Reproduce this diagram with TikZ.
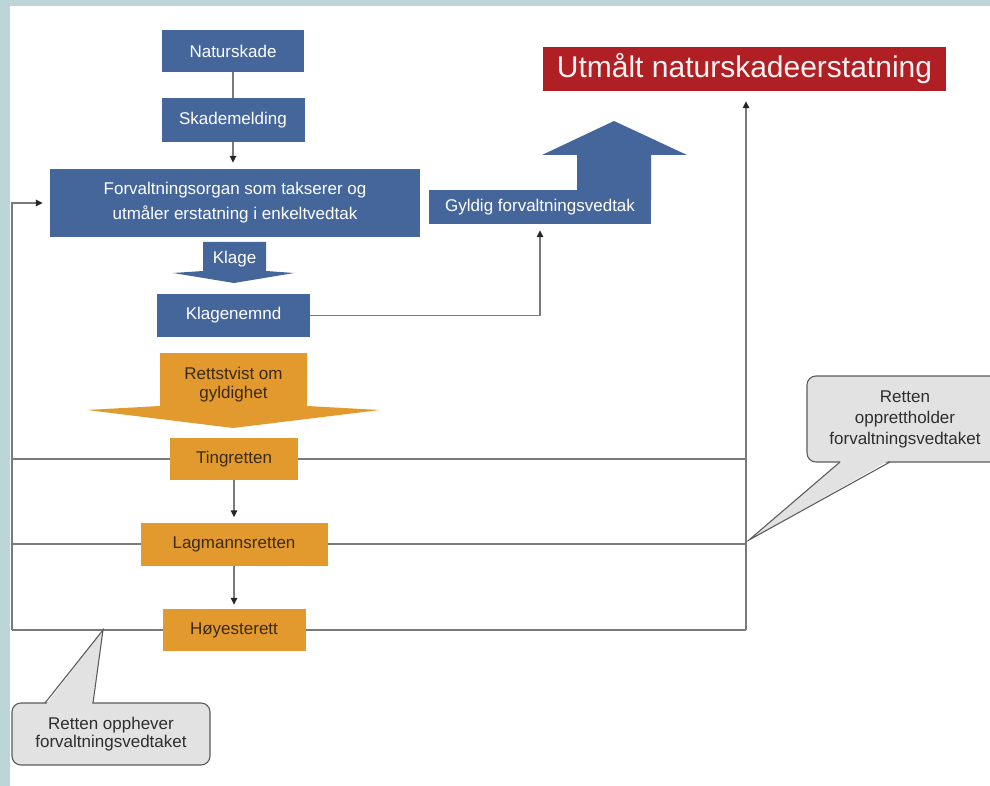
\documentclass[tikz,border=0pt]{standalone}
\usepackage{fontspec}
\setmainfont{Liberation Sans}
\usetikzlibrary{arrows.meta}
\definecolor{bgband}{HTML}{BCD5D9}
\definecolor{boxblue}{HTML}{45669A}
\definecolor{boxorange}{HTML}{E29A2E}
\definecolor{boxred}{HTML}{B01F24}
\definecolor{linegray}{HTML}{7A7A7A}
\definecolor{callfill}{HTML}{E2E2E2}
\definecolor{callline}{HTML}{5C5C5C}
\definecolor{orangetext}{HTML}{3B2A12}
\definecolor{calltext}{HTML}{2E2E2E}
\begin{document}
\begin{tikzpicture}[x=1pt,y=-1pt,
  txt/.style={font=\fontsize{17}{19}\selectfont, align=center, inner sep=0pt},
  bluebox/.style={txt, fill=boxblue, text=white},
  orangebox/.style={txt, fill=boxorange, text=orangetext},
  redbox/.style={fill=boxred, text=white!95!red, inner sep=0pt, font=\fontsize{30}{32}\selectfont},
  callbox/.style={txt, fill=callfill, draw=callline, line width=1.1pt, rounded corners=9pt, text=calltext},
  conn/.style={draw=linegray, line width=1.5pt},
  arr/.style={conn, -{Triangle[length=7pt,width=6.5pt,color=black!85]}},
  bigarrow/.style={fill=boxblue}
]
\useasboundingbox (0,0) rectangle (990,786);
\fill[bgband] (0,0) rectangle (990,786);
\fill[white] (10,6) rectangle (990,786);

% coordinates of the outer lines
\coordinate (lt) at (12,459);
\coordinate (ll) at (12,544);
\coordinate (lh) at (12,630);
\coordinate (rt) at (746,459);
\coordinate (rl) at (746,544);
\coordinate (rh) at (746,630);
\draw[conn] (lt) -- (rt);
\draw[conn] (ll) -- (rl);
\draw[conn] (lh) -- (rh);

% blue column
\node[bluebox, minimum width=142pt, minimum height=42pt] (nat) at (233,51) {Naturskade};
\node[bluebox, minimum width=143pt, minimum height=44pt] (skm) at (233,120) {Skademelding};
\node[bluebox, minimum width=370pt, minimum height=68pt, font=\fontsize{17}{25}\selectfont] (forv) at (235,203)
  {Forvaltningsorgan som takserer og\\utmåler erstatning i enkeltvedtak};
\fill[boxblue] (203,242) -- (266,242) -- (266,271) -- (294,273) -- (234,283) -- (173,273) -- (203,271) -- cycle;
\node[txt, text=white] (klage) at (234.5,259) {Klage};
\node[bluebox, minimum width=153pt, minimum height=43pt] (kln) at (233.5,315.5) {Klagenemnd};

% valid decision with up arrow
\fill[bigarrow] (577,200) -- (577,155) -- (542,155) -- (614,121) -- (687,155) -- (651,155) -- (651,200) -- cycle;
\node[bluebox, minimum width=222pt, minimum height=34pt] (gyl) at (540,207) {Gyldig forvaltningsvedtak};

% result
\node[redbox, minimum width=403pt, minimum height=44pt] (res) at (744.5,69) {Utmålt naturskadeerstatning};

% courts
\fill[boxorange] (160,353) -- (307,353) -- (307,406) -- (380,410) -- (233,428) -- (87,410) -- (160,406) -- cycle;
\node[txt, text=orangetext] (rett) at (233.5,385) {Rettstvist om\\gyldighet};
\node[orangebox, minimum width=128pt, minimum height=42pt] (ting) at (234,459) {Tingretten};
\node[orangebox, minimum width=187pt, minimum height=43pt] (lag) at (234,544) {Lagmannsretten};
\node[orangebox, minimum width=143pt, minimum height=42pt] (hoy) at (234,630) {Høyesterett};

\draw[conn] (nat) -- (skm);
\draw[arr, shorten >=6pt] (skm) -- (forv.north -| skm);
\draw[arr, shorten >=7pt] (lh) -- (lh |- forv.west) -- (forv.west);
\draw[arr, shorten >=6pt] (kln.east) -| (gyl.south);
\draw[arr, shorten >=10pt] (rh) -- (rh |- res.south);
\draw[arr, shorten >=5pt] (ting) -- (lag);
\draw[arr, shorten >=4pt] (lag) -- (hoy);

% callouts
\node[callbox, minimum width=198pt, minimum height=62pt, font=\fontsize{17}{18.5}\selectfont] (cl) at (111,734)
  {Retten opphever\\forvaltningsvedtaket};
\fill[callfill] (46,704.5) -- (103,630) -- (92,704.5) -- cycle;
\draw[callline, line width=1.1pt, line join=miter] (45,703) -- (103,630) -- (93,703);

\node[callbox, minimum width=196pt, minimum height=86pt, font=\fontsize{17}{21}\selectfont] (cr) at (905,419)
  {Retten\\opprettholder\\forvaltningsvedtaket};
\fill[callfill] (841,461) -- (749,540) -- (888,461) -- cycle;
\draw[callline, line width=1.1pt] (840,462) -- (749,540) -- (890,462);
\end{tikzpicture}
\end{document}
